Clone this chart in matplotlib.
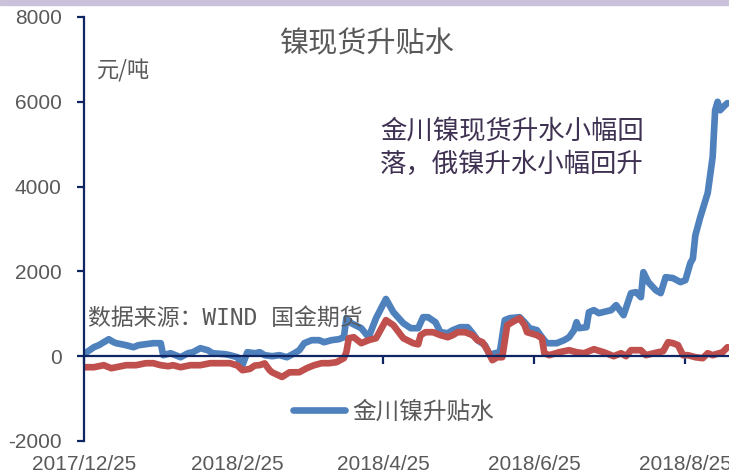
import matplotlib
matplotlib.use('Agg')
import matplotlib.pyplot as plt
import matplotlib.dates as mdates
from matplotlib.patches import Rectangle
from matplotlib.lines import Line2D
import pandas as pd

plt.rcParams['font.family'] = ['Liberation Sans', 'Noto Sans CJK SC', 'DejaVu Sans']

# 金川镍升贴水 (元/吨)
jc_dates = ['2017-12-25', '2017-12-29', '2017-12-31', '2018-01-04', '2018-01-06', '2018-01-07',
            '2018-01-11', '2018-01-14', '2018-01-16', '2018-01-19', '2018-01-22', '2018-01-25',
            '2018-01-26', '2018-01-29', '2018-02-02', '2018-02-05', '2018-02-07', '2018-02-10',
            '2018-02-13', '2018-02-15', '2018-02-20', '2018-02-22', '2018-02-25', '2018-02-27',
            '2018-03-01', '2018-03-04', '2018-03-06', '2018-03-08', '2018-03-11', '2018-03-14',
            '2018-03-17', '2018-03-20', '2018-03-22', '2018-03-24', '2018-03-27', '2018-03-30',
            '2018-04-01', '2018-04-04', '2018-04-07', '2018-04-09', '2018-04-10', '2018-04-12',
            '2018-04-16', '2018-04-19', '2018-04-22', '2018-04-26', '2018-04-29', '2018-05-03',
            '2018-05-06', '2018-05-09', '2018-05-11', '2018-05-13', '2018-05-16', '2018-05-18',
            '2018-05-21', '2018-05-23', '2018-05-26', '2018-05-29', '2018-05-31', '2018-06-02',
            '2018-06-05', '2018-06-07', '2018-06-09', '2018-06-11', '2018-06-13', '2018-06-15',
            '2018-06-19', '2018-06-21', '2018-06-23', '2018-06-26', '2018-06-28', '2018-06-30',
            '2018-07-04', '2018-07-07', '2018-07-09', '2018-07-11', '2018-07-12', '2018-07-13',
            '2018-07-16', '2018-07-17', '2018-07-19', '2018-07-21', '2018-07-26', '2018-07-28',
            '2018-07-31', '2018-08-03', '2018-08-05', '2018-08-07', '2018-08-08', '2018-08-10',
            '2018-08-13', '2018-08-15', '2018-08-17', '2018-08-20', '2018-08-23', '2018-08-25',
            '2018-08-27', '2018-08-28', '2018-08-29', '2018-08-31', '2018-09-03', '2018-09-05',
            '2018-09-06', '2018-09-07', '2018-09-08', '2018-09-10', '2018-09-11']
jc_values = [50, 212, 260, 400, 330, 307,
             260, 212, 260, 283, 307, 307,
             24, 70, -24, 70, 94, 189,
             142, 70, 47, 24, -24, -212,
             94, 70, 94, 24, 0, 24,
             -24, 70, 142, 307, 378, 378,
             330, 378, 401, 448, 897, 779,
             661, 448, 897, 1350, 1038, 779,
             661, 661, 920, 920, 802, 566,
             543, 614, 684, 684, 543, 378,
             260, 24, 70, 94, 850, 897,
             920, 802, 661, 614, 448, 307,
             307, 378, 448, 614, 802, 661,
             684, 1038, 1086, 1015, 1086, 1204,
             968, 1487, 1510, 1392, 1982, 1746,
             1558, 1487, 1864, 1841, 1746, 1794,
             2200, 2300, 2850, 3280, 3850, 4700,
             5800, 6000, 5800, 5920, 5970]

# 俄镍升贴水 (元/吨)
ru_dates = ['2017-12-25', '2017-12-29', '2018-01-02', '2018-01-05', '2018-01-07', '2018-01-11',
            '2018-01-15', '2018-01-19', '2018-01-22', '2018-01-25', '2018-01-28', '2018-01-30',
            '2018-02-02', '2018-02-06', '2018-02-10', '2018-02-14', '2018-02-18', '2018-02-22',
            '2018-02-25', '2018-02-27', '2018-03-02', '2018-03-04', '2018-03-06', '2018-03-08',
            '2018-03-10', '2018-03-11', '2018-03-15', '2018-03-18', '2018-03-22', '2018-03-25',
            '2018-03-28', '2018-03-31', '2018-04-03', '2018-04-06', '2018-04-09', '2018-04-10',
            '2018-04-11', '2018-04-13', '2018-04-16', '2018-04-19', '2018-04-22', '2018-04-26',
            '2018-04-29', '2018-05-03', '2018-05-07', '2018-05-09', '2018-05-10', '2018-05-12',
            '2018-05-15', '2018-05-18', '2018-05-21', '2018-05-23', '2018-05-25', '2018-05-28',
            '2018-05-31', '2018-06-02', '2018-06-04', '2018-06-06', '2018-06-08', '2018-06-10',
            '2018-06-12', '2018-06-14', '2018-06-16', '2018-06-19', '2018-06-21', '2018-06-22',
            '2018-06-26', '2018-06-28', '2018-06-29', '2018-07-01', '2018-07-05', '2018-07-09',
            '2018-07-12', '2018-07-15', '2018-07-19', '2018-07-23', '2018-07-27', '2018-07-30',
            '2018-08-01', '2018-08-03', '2018-08-07', '2018-08-09', '2018-08-14', '2018-08-16',
            '2018-08-18', '2018-08-20', '2018-08-22', '2018-08-24', '2018-08-26', '2018-08-29',
            '2018-09-01', '2018-09-03', '2018-09-05', '2018-09-09', '2018-09-11']
ru_values = [-260, -260, -212, -283, -260, -212,
             -212, -165, -165, -212, -236, -212,
             -260, -212, -212, -165, -165, -165,
             -220, -330, -300, -220, -210, -170,
             -330, -380, -490, -380, -378, -283,
             -212, -165, -165, -142, -47, 94,
             425, 448, 307, 378, 425, 850,
             732, 425, 307, 280, 496, 566,
             566, 496, 448, 496, 566, 566,
             496, 378, 330, 142, -94, -24,
             -24, 732, 802, 897, 732, 566,
             496, 425, 70, 24, 94, 142,
             94, 70, 165, 94, 0, 70,
             0, 142, 142, 24, 94, 118,
             330, 307, 260, 24, 24, -24,
             -47, 70, 24, 94, 212]

x_ticks = ['2017-12-25', '2018-02-25', '2018-04-25', '2018-06-25', '2018-08-25']
x_tick_labels = ['2017/12/25', '2018/2/25', '2018/4/25', '2018/6/25', '2018/8/25']
y_ticks = [-2000, 0, 2000, 4000, 6000, 8000]

navy = '#0F2463'
grey = '#595959'
blue = '#4F81BD'
red = '#C0504D'

to_num = lambda d: mdates.date2num(pd.to_datetime(d))
jc_x = to_num(jc_dates)
ru_x = to_num(ru_dates)
tick_x = to_num(x_ticks)

fig = plt.figure(figsize=(7.29, 4.75), dpi=100)
ax = fig.add_axes([84 / 729, 1 - 441 / 475, 1 - 84 / 729, (441 - 17) / 475])

ax.plot(jc_x, jc_values, color=blue, lw=4.8, solid_joinstyle='round', solid_capstyle='round')
ax.plot(ru_x, ru_values, color=red, lw=4.8, solid_joinstyle='round', solid_capstyle='round')

ax.set_xlim(tick_x[0], tick_x[0] + 260.6)
ax.set_ylim(-2000, 8000)
ax.set_yticks(y_ticks)
ax.set_yticklabels([str(v) for v in y_ticks])

for s in ['top', 'right']:
    ax.spines[s].set_visible(False)
ax.spines['left'].set_color(navy)
ax.spines['left'].set_linewidth(1.6)
ax.spines['bottom'].set_position(('data', 0))
ax.spines['bottom'].set_color(navy)
ax.spines['bottom'].set_linewidth(1.6)

ax.set_xticks(tick_x)
ax.tick_params(axis='x', length=6, width=1.6, color=navy, labelbottom=False)
ax.tick_params(axis='y', length=5, width=1.6, color=navy, labelcolor=grey,
               labelsize=15, pad=11)

sec = ax.secondary_xaxis('bottom')
sec.set_xticks(tick_x)
sec.set_xticklabels(x_tick_labels)
sec.spines['bottom'].set_visible(False)
sec.tick_params(length=0, labelsize=15, labelcolor=grey, pad=10)

# top band
fig.patches.append(Rectangle((0, 1 - 5 / 475), 1, 5 / 475, transform=fig.transFigure,
                             color='#CCC1DA', zorder=0))

fig.text(367 / 729, 1 - 44 / 475, '镍现货升贴水', fontsize=21, color=grey,
         ha='center', va='center', family=['Noto Sans CJK SC'])
fig.text(124 / 729, 1 - 71 / 475, '元/吨', fontsize=16, color=grey,
         ha='center', va='center', family=['Noto Sans CJK SC'])
fig.text(380 / 729, 1 - 148 / 475, '金川镍现货升水小幅回\n落，俄镍升水小幅回升', fontsize=19,
         color='#3F3151', ha='left', va='center', linespacing=1.3,
         family=['Noto Sans CJK SC'])
fig.text(88 / 729, 1 - 318 / 475, '数据来源：WIND 国金期货', fontsize=16.5, color=grey,
         ha='left', va='center', family=['DejaVu Sans Mono', 'Noto Sans CJK SC'])

handle = Line2D([], [], color=blue, lw=4.8, solid_capstyle='round')
leg = ax.legend([handle], ['金川镍升贴水'], loc='center left',
                bbox_to_anchor=(293 / 729, 1 - 412 / 475), bbox_transform=fig.transFigure,
                frameon=False, borderpad=0, borderaxespad=0, handlelength=2.2,
                handletextpad=0.3, prop={'family': 'Noto Sans CJK SC', 'size': 17})
for t in leg.get_texts():
    t.set_color(grey)

fig.savefig('out.png', dpi=100)
